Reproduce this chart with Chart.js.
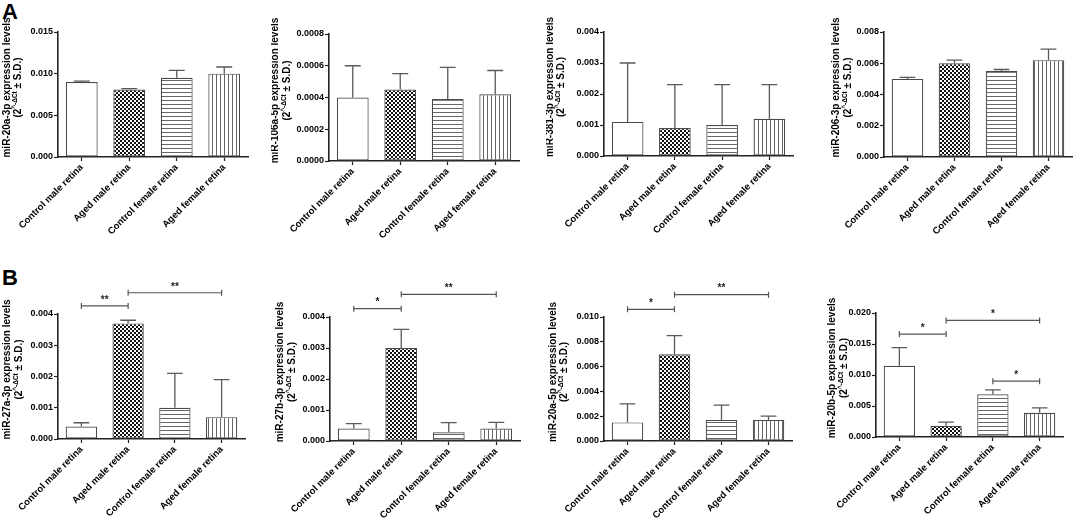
<!DOCTYPE html>
<html>
<head>
<meta charset="utf-8">
<script src="https://cdn.jsdelivr.net/npm/chart.js@4.4.1/dist/chart.umd.min.js"></script>
<style>
  body { margin: 0; background: #fff; width: 1076px; height: 518px; overflow: hidden; position: relative;
         font-family: "Liberation Sans", Arial, sans-serif; }
  .panel { position: absolute; }
  .letter { position: absolute; font-weight: bold; font-size: 22px; line-height: 22px; color: #000; }
</style>
</head>
<body>
<div class="letter" style="left:2px;top:1px">A</div>
<div class="letter" style="left:2px;top:267px">B</div>
<script>
// Groups (x categories)
const groups = ["Control male retina", "Aged male retina", "Control female retina", "Aged female retina"];

// Row A: mean and S.D. (upward error) per group
const mir20a3pMean = [0.0090, 0.0081, 0.0095, 0.0100];
const mir20a3pSD   = [0.0001, 0.0001, 0.0009, 0.0008];
const mir106a5pMean = [0.00040, 0.00045, 0.00039, 0.00042];
const mir106a5pSD   = [0.00020, 0.00010, 0.00020, 0.00015];
const mir381p3Mean = [0.0011, 0.0009, 0.0010, 0.0012];
const mir381p3SD   = [0.0019, 0.0014, 0.0013, 0.0011];
const mir206p3Mean = [0.0050, 0.0060, 0.0055, 0.0062];
const mir206p3SD   = [0.0001, 0.0002, 0.0001, 0.0007];

// Row B
const mir27a3pMean = [0.0004, 0.0037, 0.0010, 0.0007];
const mir27a3pSD   = [0.00012, 0.0001, 0.0011, 0.0012];
const mir27b3pMean = [0.0004, 0.0030, 0.00028, 0.0004];
const mir27b3pSD   = [0.00016, 0.0006, 0.00031, 0.0002];
const mir20a5pMean = [0.0015, 0.0070, 0.0017, 0.0017];
const mir20a5pSD   = [0.0015, 0.0015, 0.0012, 0.0003];
const mir20b5pMean = [0.0115, 0.0018, 0.0069, 0.0039];
const mir20b5pSD   = [0.0029, 0.0006, 0.0007, 0.0008];

// Significance brackets: [from group, to group, height, label]
const mir27a3pSig = [[0, 1, 0.00426, "**"], [1, 3, 0.00468, "**"]];
const mir27b3pSig = [[0, 1, 0.00427, "*"], [1, 3, 0.00473, "**"]];
const mir20a5pSig = [[0, 1, 0.01062, "*"], [1, 3, 0.0118, "**"]];
const mir20b5pSig = [[0, 1, 0.0166, "*"], [1, 3, 0.0188, "*"], [2, 3, 0.0090, "*"]];

// Y axis max / step / decimals per panel
const yMax   = [0.015, 0.0008, 0.004, 0.008, 0.004, 0.004, 0.010, 0.020];
const yStep  = [0.005, 0.0002, 0.001, 0.002, 0.001, 0.001, 0.002, 0.005];
const yDec   = [3, 4, 3, 3, 3, 3, 3, 3];

const Y_W = 58;
const FONT = "'Liberation Sans', Arial, sans-serif";

// fill patterns
function pattern(kind) {
  const c = document.createElement("canvas");
  c.width = 4; c.height = 4;
  const g = c.getContext("2d");
  g.fillStyle = "#fff";
  g.fillRect(0, 0, 4, 4);
  if (kind === "check") {
    g.fillStyle = "#111";
    g.fillRect(0, 0, 2, 2);
    g.fillRect(2, 2, 2, 2);
  } else if (kind === "hline") {
    g.fillStyle = "#666";
    g.fillRect(0, 0, 4, 1);
  } else if (kind === "vline") {
    g.fillStyle = "#666";
    g.fillRect(0, 0, 1, 4);
  }
  return g.createPattern(c, "repeat");
}
const fills = ["#ffffff", pattern("check"), pattern("hline"), pattern("vline")];

const panels = [
  { name: "miR-20a-3p",  mean: mir20a3pMean,  sd: mir20a3pSD,  sig: [], box: { axisX: 58,  right: 248,  top: 32,  zero: 157, rowTop: 0,   rowH: 258, tx: -51 } },
  { name: "miR-106a-5p", mean: mir106a5pMean, sd: mir106a5pSD, sig: [], box: { axisX: 329, right: 519,  top: 34,  zero: 161, rowTop: 0,   rowH: 258, tx: -53.5 } },
  { name: "miR-381-3p",  mean: mir381p3Mean,  sd: mir381p3SD,  sig: [], box: { axisX: 604, right: 793,  top: 32,  zero: 156, rowTop: 0,   rowH: 258, tx: -54 } },
  { name: "miR-206-3p",  mean: mir206p3Mean,  sd: mir206p3SD,  sig: [], box: { axisX: 884, right: 1072, top: 32,  zero: 157, rowTop: 0,   rowH: 258, tx: -47.5 } },
  { name: "miR-27a-3p",  mean: mir27a3pMean,  sd: mir27a3pSD,  sig: mir27a3pSig, box: { axisX: 58,  right: 245,  top: 314, zero: 439, rowTop: 258, rowH: 260, tx: -50.5 } },
  { name: "miR-27b-3p",  mean: mir27b3pMean,  sd: mir27b3pSD,  sig: mir27b3pSig, box: { axisX: 330, right: 520,  top: 317, zero: 441, rowTop: 258, rowH: 260, tx: -49.5 } },
  { name: "miR-20a-5p",  mean: mir20a5pMean,  sd: mir20a5pSD,  sig: mir20a5pSig, box: { axisX: 604, right: 792,  top: 317, zero: 441, rowTop: 258, rowH: 260, tx: -51 } },
  { name: "miR-20b-5p",  mean: mir20b5pMean,  sd: mir20b5pSD,  sig: mir20b5pSig, box: { axisX: 876, right: 1063, top: 313, zero: 437, rowTop: 258, rowH: 260, tx: -43.5 } },
];

// error bars (upward only, with cap)
const errorBars = {
  id: "errorBars",
  afterDatasetsDraw(chart, args, opts) {
    const ctx = chart.ctx, y = chart.scales.y;
    chart.getDatasetMeta(0).data.forEach((bar, i) => {
      const top = y.getPixelForValue(opts.mean[i] + opts.sd[i]);
      const half = bar.width / 4;
      ctx.save();
      ctx.strokeStyle = "#5a5a5a";
      ctx.lineWidth = 1.3;
      ctx.beginPath();
      ctx.moveTo(bar.x, bar.y);
      ctx.lineTo(bar.x, top);
      ctx.moveTo(bar.x - half, top);
      ctx.lineTo(bar.x + half, top);
      ctx.stroke();
      ctx.restore();
    });
  }
};

// significance brackets above the bars
const brackets = {
  id: "brackets",
  afterDraw(chart, args, opts) {
    const ctx = chart.ctx, x = chart.scales.x, y = chart.scales.y;
    opts.sig.forEach(([a, b, h, label]) => {
      const x1 = x.getPixelForValue(a), x2 = x.getPixelForValue(b), yy = y.getPixelForValue(h);
      ctx.save();
      ctx.strokeStyle = "#555";
      ctx.lineWidth = 1.2;
      ctx.beginPath();
      ctx.moveTo(x1, yy); ctx.lineTo(x2, yy);
      ctx.moveTo(x1, yy - 3); ctx.lineTo(x1, yy + 3);
      ctx.moveTo(x2, yy - 3); ctx.lineTo(x2, yy + 3);
      ctx.stroke();
      ctx.fillStyle = "#222";
      ctx.font = "bold 10px " + FONT;
      ctx.textAlign = "center";
      ctx.textBaseline = "middle";
      ctx.fillText(label, (x1 + x2) / 2, yy - 6);
      ctx.restore();
    });
  }
};

// two-line rotated y title with superscript
const yTitle = {
  id: "yTitle",
  afterDraw(chart, args, opts) {
    const ctx = chart.ctx, area = chart.chartArea;
    const cy = (area.top + area.bottom) / 2 - 7;
    ctx.save();
    ctx.fillStyle = "#000";
    ctx.textBaseline = "middle";
    ctx.textAlign = "left";
    ctx.translate(area.left + opts.tx, cy);
    ctx.rotate(-Math.PI / 2);
    // line 1
    ctx.font = "bold 10px " + FONT;
    const t1 = opts.name + " expression levels";
    ctx.fillText(t1, -ctx.measureText(t1).width / 2, 0);
    // line 2
    const a = "(2", sup = "^-\u0394Ct", b = " \u00b1 S.D.)";
    const wa = ctx.measureText(a).width, wb = ctx.measureText(b).width;
    ctx.font = "bold 6.5px " + FONT;
    const ws = ctx.measureText(sup).width;
    let px = -(wa + ws + wb) / 2;
    const ly = 11.5;
    ctx.font = "bold 10px " + FONT;
    ctx.fillText(a, px, ly); px += wa;
    ctx.font = "bold 6.5px " + FONT;
    ctx.fillText(sup, px, ly - 3); px += ws;
    ctx.font = "bold 10px " + FONT;
    ctx.fillText(b, px, ly);
    ctx.restore();
  }
};

function makeChart(p, k) {
  const b = p.box;
  const left = b.axisX - Y_W;
  const width = Math.min(b.right + 3, 1076) - left;
  const div = document.createElement("div");
  div.className = "panel";
  div.style.left = left + "px";
  div.style.top = b.rowTop + "px";
  const cv = document.createElement("canvas");
  cv.width = width;
  cv.height = b.rowH;
  div.appendChild(cv);
  document.body.appendChild(div);

  new Chart(cv, {
    type: "bar",
    data: {
      labels: groups,
      datasets: [{
        data: p.mean,
        backgroundColor: fills,
        borderColor: "#4a4a4a",
        borderWidth: 1.2,
        borderSkipped: false,
        barPercentage: 0.67,
        categoryPercentage: 1
      }]
    },
    options: {
      responsive: false,
      animation: false,
      layout: { padding: { left: 0, top: b.top - b.rowTop, right: width - Y_W - (b.right - b.axisX), bottom: 0 } },
      plugins: {
        legend: { display: false },
        tooltip: { enabled: false },
        errorBars: { mean: p.mean, sd: p.sd },
        brackets: { sig: p.sig },
        yTitle: { name: p.name, tx: b.tx }
      },
      scales: {
        x: {
          grid: { offset: false, drawOnChartArea: false, tickLength: 4, tickColor: "#222", tickWidth: 1.2 },
          border: { color: "#222", width: 1.6 },
          ticks: { minRotation: 45, maxRotation: 45, autoSkip: false, padding: 1, color: "#000",
                   font: { family: FONT, size: 9.5, weight: "bold" } },
          afterFit: s => { s.height = b.rowTop + b.rowH - b.zero; }
        },
        y: {
          min: 0, max: yMax[k],
          grid: { drawOnChartArea: false, tickLength: 4, tickColor: "#222", tickWidth: 1.2 },
          border: { color: "#222", width: 1.6 },
          ticks: { stepSize: yStep[k], padding: 1, color: "#000",
                   font: { family: FONT, size: 9, weight: "bold" },
                   callback: v => Number(v).toFixed(yDec[k]) },
          afterFit: s => { s.width = Y_W; }
        }
      }
    },
    plugins: [errorBars, brackets, yTitle]
  });
}

panels.forEach(makeChart);
</script>
</body>
</html>
